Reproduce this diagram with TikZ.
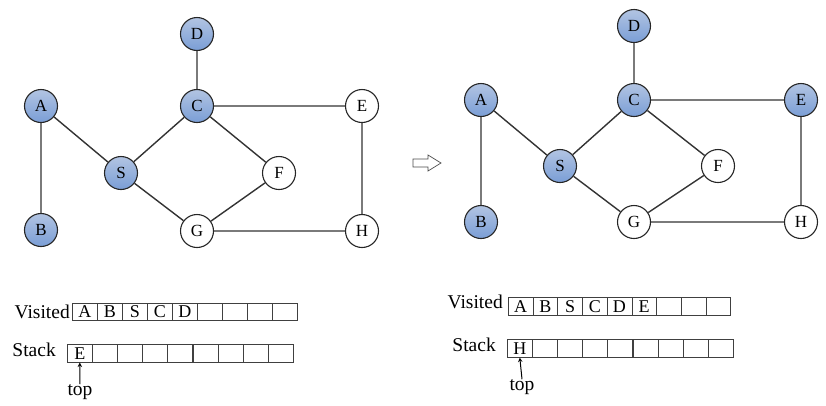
\documentclass[tikz,border=0pt]{standalone}
\usepackage{fontspec}
\setmainfont{Liberation Serif}
\definecolor{nodeblueT}{RGB}{178,196,226}
\definecolor{nodeblueB}{RGB}{122,158,214}
\begin{document}
\begin{tikzpicture}[x=1pt,y=-1pt,
  vtx/.style={circle,draw=black!85,line width=1.1pt,minimum size=33pt,inner sep=0pt,font=\fontsize{17}{17}\selectfont,fill=white},
  seen/.style={vtx,top color=nodeblueT,bottom color=nodeblueB},
  edge/.style={draw=black!80,line width=1.4pt},
  cellbox/.style={draw=black!75,line width=0.6pt,minimum width=25pt,minimum height=17.5pt,inner sep=0pt,anchor=west,font=\fontsize{18}{18}\selectfont},
  lbl/.style={font=\fontsize{19.5}{19.5}\selectfont,inner sep=0pt},
  toparrow/.style={->,>=stealth,line width=1pt}]
\useasboundingbox (0,0) rectangle (826,405);
% left graph
\node[seen] (A1) at (41,106) {A};
\node[seen] (B1) at (41,230) {B};
\node[seen] (S1) at (121,173) {S};
\node[seen] (C1) at (197,106) {C};
\node[seen] (D1) at (197,34) {D};
\node[vtx] (E1) at (362,106) {E};
\node[vtx] (F1) at (279,173) {F};
\node[vtx] (G1) at (197,231) {G};
\node[vtx] (H1) at (362,231) {H};
\draw[edge] (A1)--(B1) (A1)--(S1) (S1)--(C1) (S1)--(G1) (C1)--(D1) (C1)--(E1) (C1)--(F1) (F1)--(G1) (G1)--(H1) (E1)--(H1);
% right graph
\node[seen] (A2) at (481,100) {A};
\node[seen] (B2) at (481,222) {B};
\node[seen] (S2) at (560,166) {S};
\node[seen] (C2) at (634,100) {C};
\node[seen] (D2) at (634,26) {D};
\node[seen] (E2) at (801,100) {E};
\node[vtx] (F2) at (718,166) {F};
\node[vtx] (G2) at (634,222) {G};
\node[vtx] (H2) at (801,222) {H};
\draw[edge] (A2)--(B2) (A2)--(S2) (S2)--(C2) (S2)--(G2) (C2)--(D2) (C2)--(E2) (C2)--(F2) (F2)--(G2) (G2)--(H2) (E2)--(H2);
% middle arrow
\draw[black!70,line width=0.7pt,fill=white] (413,159) -- (428,159) -- (428,155) -- (441,163) -- (428,171) -- (428,167) -- (413,167) -- cycle;
% left arrays
\foreach \t [count=\i] in {A,B,S,C,D,{},{},{},{}}
  \node[cellbox] (v1\i) at (72+25*\i-25,312) {\t};
\foreach \t [count=\i] in {E,{},{},{},{},{},{},{},{}}
  \node[cellbox] (s1\i) at (67+25.1*\i-25.1,353.5) {\t};
\node[lbl,anchor=east] (vl1) at (70,312) {Visited};
\node[lbl,anchor=east] (sl1) at (56,350) {Stack};
\node[lbl] (top1) at (80,392) {top};
\draw[toparrow] (top1.north) -- (s11.south);
% right arrays
\foreach \t [count=\i] in {A,B,S,C,D,E,{},{},{}}
  \node[cellbox,minimum width=24.7pt] (v2\i) at (508+24.7*\i-24.7,306.5) {\t};
\foreach \t [count=\i] in {H,{},{},{},{},{},{},{},{}}
  \node[cellbox] (s2\i) at (507+25.1*\i-25.1,348.5) {\t};
\node[lbl,anchor=east] (vl2) at (503,302) {Visited};
\node[lbl,anchor=east] (sl2) at (496,345) {Stack};
\node[lbl] (top2) at (522,387) {top};
\draw[toparrow] (top2.north) -- (s21.south);
\end{tikzpicture}
\end{document}
